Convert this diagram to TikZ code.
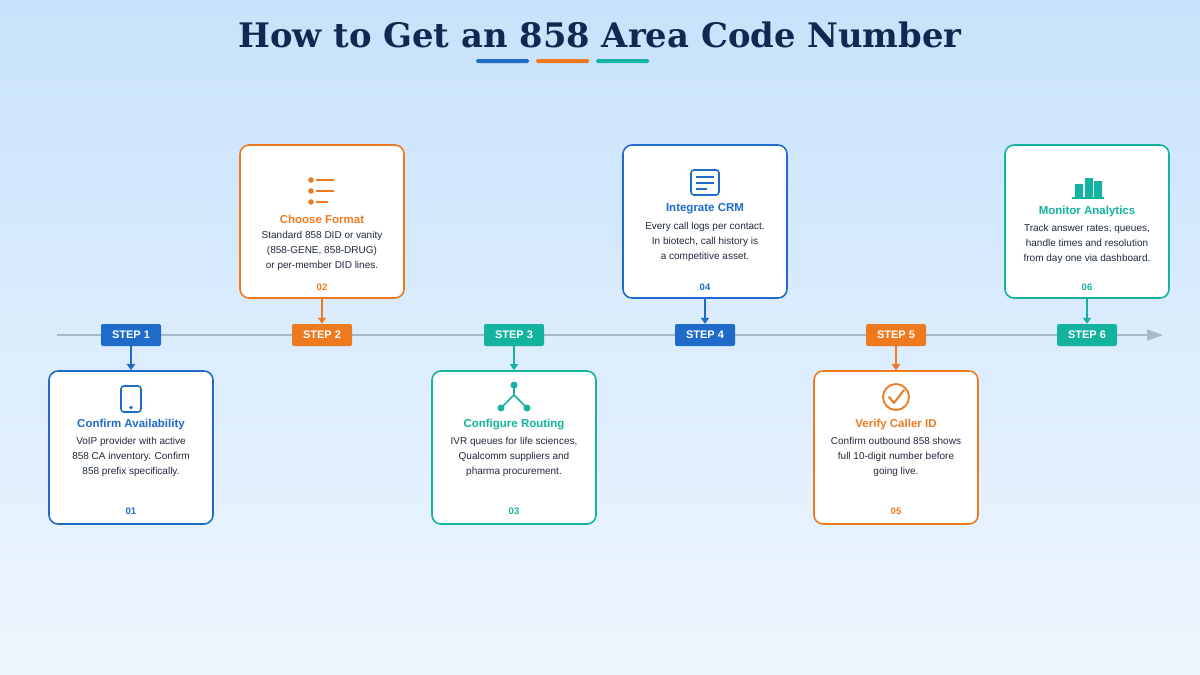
\documentclass[tikz,border=0pt]{standalone}
\usepackage{fontspec}
\setmainfont{Liberation Sans}
\newfontfamily\titlefont{DejaVu Serif}
\usetikzlibrary{arrows.meta}
\definecolor{cblue}{HTML}{1E6BC9}
\definecolor{corange}{HTML}{EE7A1F}
\definecolor{cteal}{HTML}{14B3A0}
\definecolor{ctitle}{HTML}{0E2A52}
\definecolor{ctext}{HTML}{1F2A3A}
\definecolor{bgtop}{HTML}{C8E2FB}
\definecolor{bgbot}{HTML}{EEF6FE}
\definecolor{cline}{HTML}{A9B8C8}
\begin{document}
\begin{tikzpicture}[x=1pt,y=-1pt,
  card/.style={draw=#1,line width=1.6pt,rounded corners=9pt,fill=white,minimum width=164pt,minimum height=153pt},
  step/.style={fill=#1,rounded corners=2pt,minimum width=60pt,minimum height=22pt,text=white,font=\fontsize{11}{13}\selectfont\bfseries,inner sep=0pt},
  ttl/.style={text=#1,font=\fontsize{11.5}{13}\selectfont\bfseries},
  body/.style={text=ctext,font=\fontsize{10}{15}\selectfont,align=center},
  num/.style={text=#1,font=\fontsize{9.5}{11}\selectfont\bfseries},
  conn/.style={draw=#1,line width=1.5pt,-{Triangle[length=6pt,width=8pt]}}]
\useasboundingbox (0,0) rectangle (1200,675);
\shade[top color=bgtop,bottom color=bgbot] (0,0) rectangle (1200,675);
\node[text=ctitle,font=\titlefont\fontsize{33.8}{40}\selectfont\bfseries] (title) at (600,35) {How to Get an 858 Area Code Number};
\fill[cblue,rounded corners=1.5pt] (476,59) rectangle (529,63);
\fill[corange,rounded corners=1.5pt] (536,59) rectangle (589,63);
\fill[cteal,rounded corners=1.5pt] (596,59) rectangle (649,63);
% timeline
\coordinate (ls) at (57,335);
\coordinate (le) at (1163,335);
\draw[cline,line width=1.5pt,-{Triangle[length=16pt,width=11pt]}] (ls) -- (le);
% steps
\node[step=cblue] (s1) at (131,335) {STEP 1};
\node[step=corange] (s2) at (322,335) {STEP 2};
\node[step=cteal] (s3) at (514,335) {STEP 3};
\node[step=cblue] (s4) at (705,335) {STEP 4};
\node[step=corange] (s5) at (896,335) {STEP 5};
\node[step=cteal] (s6) at (1087,335) {STEP 6};
% cards
\node[card=cblue] (c1) at (131,447.5) {};
\node[card=corange] (c2) at (322,221.5) {};
\node[card=cteal] (c3) at (514,447.5) {};
\node[card=cblue] (c4) at (705,221.5) {};
\node[card=corange] (c5) at (896,447.5) {};
\node[card=cteal] (c6) at (1087,221.5) {};
\draw[conn=cblue] (s1) -- (c1);
\draw[conn=corange] (c2) -- (s2);
\draw[conn=cteal] (s3) -- (c3);
\draw[conn=cblue] (c4) -- (s4);
\draw[conn=corange] (s5) -- (c5);
\draw[conn=cteal] (c6) -- (s6);
% card 1
\draw[cblue,line width=1.6pt,rounded corners=3pt] (121,386) rectangle (141,412);
\fill[cblue] (131,407.5) circle (1.8pt);
\node[ttl=cblue] (t1) at (131,425) {Confirm Availability};
\node[body] (b1) at (131,457) {VoIP provider with active\\858 CA inventory. Confirm\\858 prefix specifically.};
\node[num=cblue] (n1) at (131,511) {01};
% card 2
\foreach \y/\l in {180/18,191/18,202/12}{\fill[corange] (311,\y) circle (2.8pt); \draw[corange,line width=1.8pt] (316,\y) -- ++(\l,0);}
\node[ttl=corange] (t2) at (322,219) {Choose Format};
\node[body] (b2) at (322,251) {Standard 858 DID or vanity\\(858-GENE, 858-DRUG)\\or per-member DID lines.};
\node[num=corange] (n2) at (322,287) {02};
% card 3
\draw[cteal,line width=1.6pt] (514,385) -- (514,395) -- (501,408) (514,395) -- (527,408);
\fill[cteal] (514,385) circle (3.5pt) (501,408) circle (3.5pt) (527,408) circle (3.5pt);
\node[ttl=cteal] (t3) at (514,425) {Configure Routing};
\node[body] (b3) at (514,457) {IVR queues for life sciences,\\Qualcomm suppliers and\\pharma procurement.};
\node[num=cteal] (n3) at (514,511) {03};
% card 4
\draw[cblue,line width=1.6pt,rounded corners=3pt] (691,170) rectangle (719,195);
\foreach \y/\l in {177/18,183/18,189/11}{\draw[cblue,line width=1.5pt] (696,\y) -- ++(\l,0);}
\node[ttl=cblue] (t4) at (705,209) {Integrate CRM};
\node[body] (b4) at (705,242) {Every call logs per contact.\\In biotech, call history is\\a competitive asset.};
\node[num=cblue] (n4) at (705,287) {04};
% card 5
\draw[corange,line width=1.8pt] (896,397) circle (13pt);
\draw[corange,line width=2pt,line cap=round,line join=round] (889,397) -- (894,403) -- (904,390);
\node[ttl=corange] (t5) at (896,425) {Verify Caller ID};
\node[body] (b5) at (896,457) {Confirm outbound 858 shows\\full 10-digit number before\\going live.};
\node[num=corange] (n5) at (896,511) {05};
% card 6
\fill[cteal] (1075,184) rectangle (1083,197) (1085,178) rectangle (1093,197) (1094,181) rectangle (1102,197);
\draw[cteal,line width=1.5pt] (1072,198) -- (1104,198);
\node[ttl=cteal] (t6) at (1087,212) {Monitor Analytics};
\node[body] (b6) at (1087,244) {Track answer rates, queues,\\handle times and resolution\\from day one via dashboard.};
\node[num=cteal] (n6) at (1087,287) {06};
\end{tikzpicture}
\end{document}
